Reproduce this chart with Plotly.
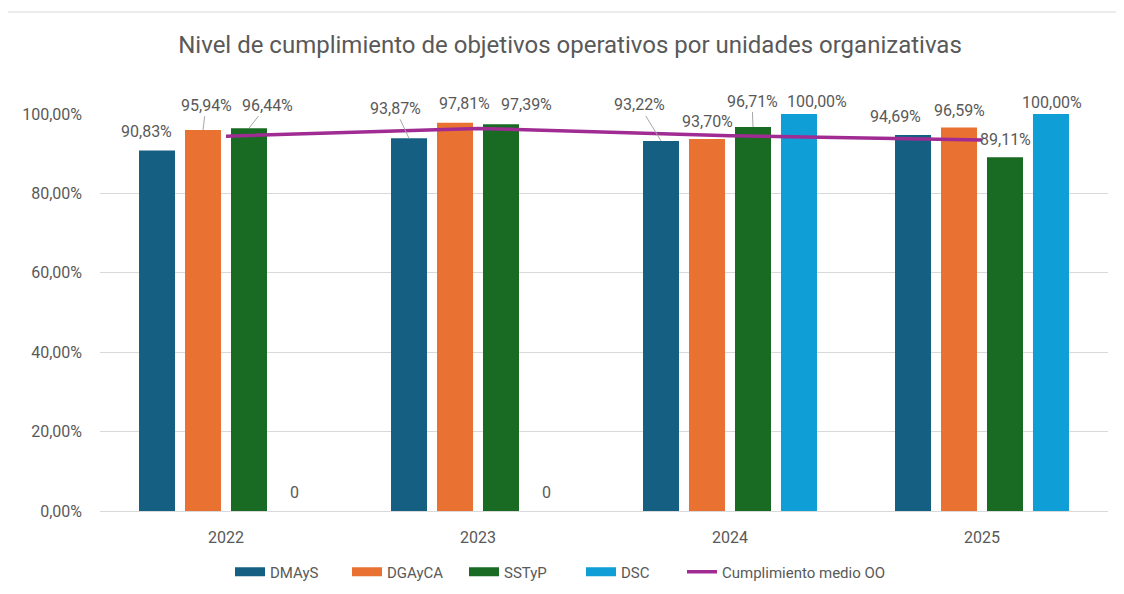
import plotly.graph_objects as go

years = ["2022", "2023", "2024", "2025"]
dmays = [90.83, 93.87, 93.22, 94.69]
dgayca = [95.94, 97.81, 93.70, 96.59]
sstyp = [96.44, 97.39, 96.71, 89.11]
dsc = [0, 0, 100.00, 100.00]
medio = [94.40, 96.36, 94.54, 93.46]
series_names = ["DMAyS", "DGAyCA", "SSTyP", "DSC"]
line_name = "Cumplimiento medio OO"
title_text = "Nivel de cumplimiento de objetivos operativos por unidades organizativas"
ytick_vals = [0, 20, 40, 60, 80, 100]
ytick_text = ["0,00%", "20,00%", "40,00%", "60,00%", "80,00%", "100,00%"]

colors = ["#156082", "#E97132", "#196B24", "#0F9ED5"]
line_color = "#A02B93"
text_color = "#595959"
FONT = "Roboto"

series_vals = [dmays, dgayca, sstyp, dsc]

# label placement (pixels relative to bar top centre): dx, dy, leader line
bar_offsets = [-69, -23, 23, 69]
label_pos = [
    [(-11, -19, False), (-14, -30, True), (-22, -36, True), (-18, -19, False)],
    [(3, -25, True), (9, -19, False), (0, -18, False), (0, -17, False)],
    [(18, -23, True), (25, -20, False), (-1, -26, True), (0, -18, False)],
    [(-1, -19, False), (-1, -19, False), (18, -13, False), (1, -12, False)],
]

fig = go.Figure()
for name, vals, col in zip(series_names, series_vals, colors):
    fig.add_trace(go.Bar(x=years, y=vals, name=name, legendgroup=name, showlegend=False,
                         marker=dict(color=col, line=dict(width=0))))

fig.add_trace(go.Scatter(x=years, y=medio, name=line_name, mode="lines", showlegend=False,
                         legendgroup=line_name, line=dict(color=line_color, width=3.5)))

# legend entries (Excel-style wide swatches)
for name, col in zip(series_names, colors):
    fig.add_trace(go.Scatter(x=[None], y=[None], name=name, legendgroup=name, mode="lines",
                             line=dict(color=col, width=9), hoverinfo="skip"))
fig.add_trace(go.Scatter(x=[None], y=[None], name=line_name, legendgroup=line_name, mode="lines",
                         legend="legend2", line=dict(color=line_color, width=3.5), hoverinfo="skip"))


def fmt(v):
    if v == 0:
        return "0"
    return f"{v:.2f}".replace(".", ",") + "%"


annotations = []
for i, vals in enumerate(series_vals):
    for j, v in enumerate(vals):
        dx, dy, leader = label_pos[i][j]
        if leader:
            annotations.append(dict(
                x=j, y=v, xref="x", yref="y", text=fmt(v),
                xshift=bar_offsets[i], showarrow=True, arrowhead=0, arrowwidth=1,
                arrowcolor="#a6a6a6", standoff=0, ax=dx, ay=dy,
                font=dict(family=FONT, size=16, color=text_color)))
        else:
            annotations.append(dict(
                x=j, y=v, xref="x", yref="y", text=fmt(v),
                xshift=bar_offsets[i] + dx, yshift=-dy, showarrow=False,
                font=dict(family=FONT, size=16, color=text_color)))

W, H = 1116, 586
legend_common = dict(orientation="h", xref="container", xanchor="left",
                     yref="container", y=1 - 564 / H, yanchor="middle",
                     font=dict(family=FONT, size=15, color=text_color), traceorder="normal")
fig.update_layout(
    width=W, height=H,
    margin=dict(l=92, r=16, t=106, b=83),
    paper_bgcolor="white", plot_bgcolor="white",
    barmode="group", bargap=0.27, bargroupgap=0.217,
    title=dict(text=title_text, x=562 / W, xanchor="center", y=1 - 37 / H, yanchor="middle",
               font=dict(family=FONT, size=24, color=text_color)),
    font=dict(family=FONT, size=16, color=text_color),
    showlegend=True,
    legend=dict(x=222 / W, entrywidth=72, **legend_common),
    legend2=dict(x=674 / W, **legend_common),
    xaxis=dict(type="category", range=[-0.5, 3.5], showgrid=False, showline=True,
               linecolor="#d9d9d9", linewidth=1, ticklabelstandoff=12, automargin=False,
               ticks="", tickfont=dict(family=FONT, size=16, color=text_color)),
    yaxis=dict(range=[0, 100], tickvals=ytick_vals, ticktext=ytick_text, automargin=False,
               showgrid=True, gridcolor="#d9d9d9", gridwidth=1, zeroline=False,
               showline=False, ticks="", ticklabelstandoff=17,
               tickfont=dict(family=FONT, size=16, color=text_color)),
    annotations=annotations,
    shapes=[dict(type="rect", xref="paper", yref="paper",
                 x0=-93 / 1008, x1=1.2, y0=-0.5, y1=499 / 397,
                 line=dict(color="#d9d9d9", width=1), fillcolor="rgba(0,0,0,0)", layer="below")],
)

fig.write_html("out.html")
